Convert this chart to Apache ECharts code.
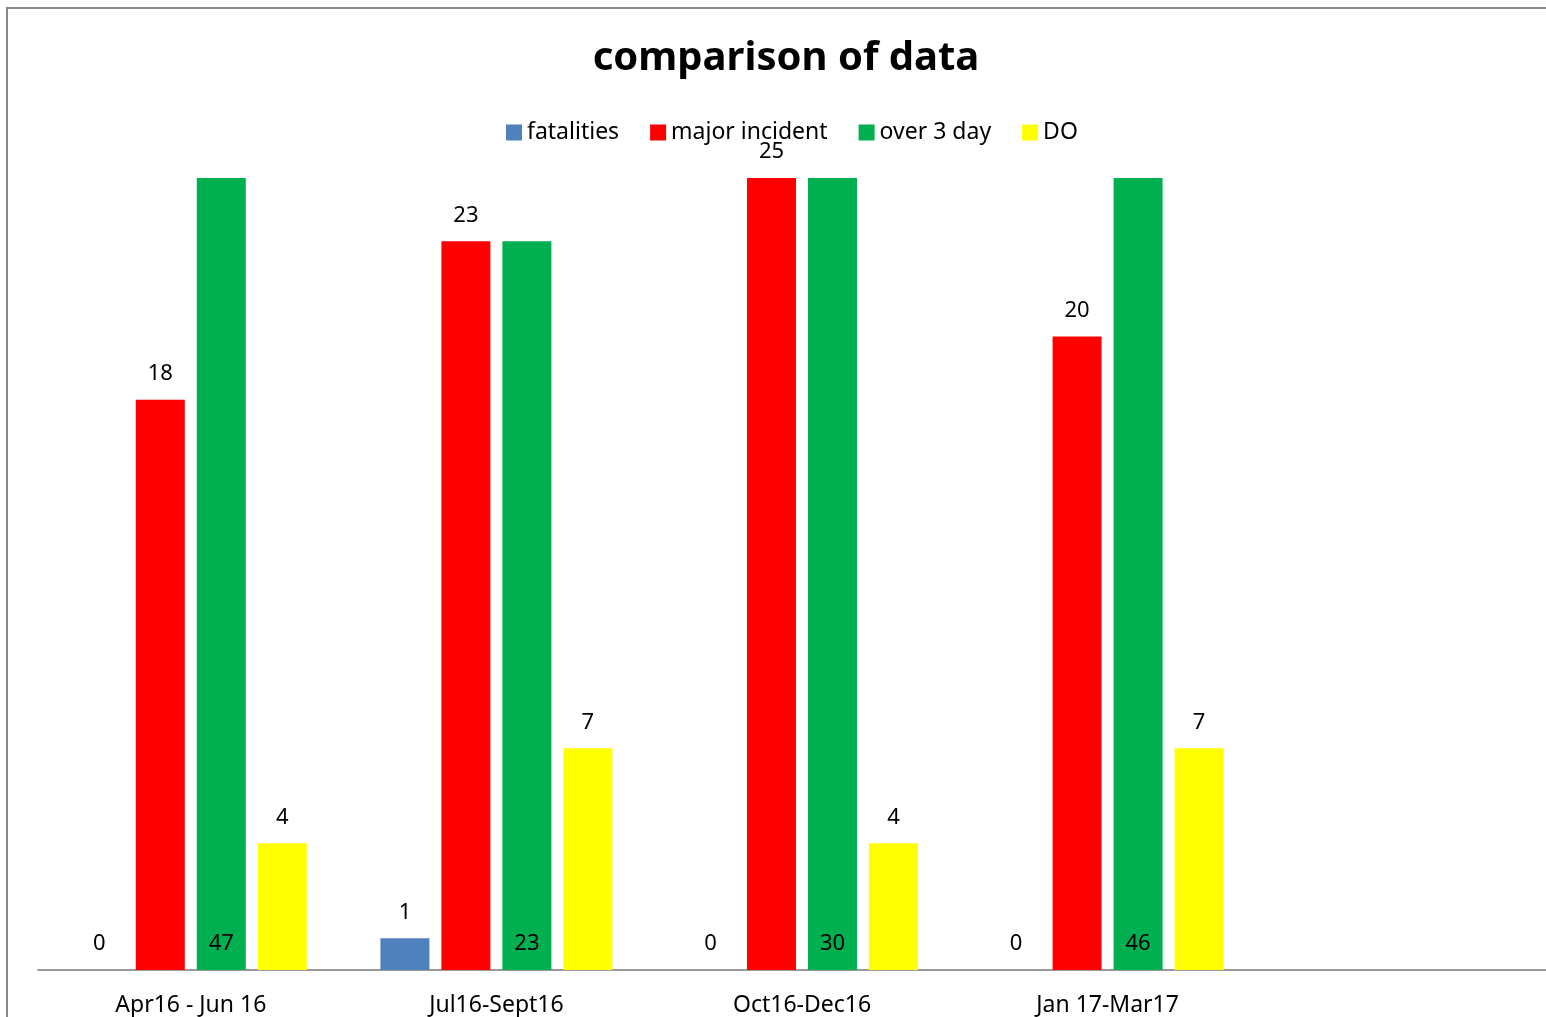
<!DOCTYPE html>
<html>
<head>
<meta charset="utf-8">
<script src="https://cdn.jsdelivr.net/npm/echarts@6/dist/echarts.min.js"></script>
<style>
html,body{margin:0;padding:0;background:#fff;overflow:hidden;width:1546px;height:1017px;}
#frame{position:absolute;left:6px;top:7px;width:1600px;height:1100px;border-left:2px solid #888;border-top:2px solid #888;}
#chart{position:absolute;left:0;top:0;width:1572px;height:1017px;}
</style>
</head>
<body>
<div id="frame"></div>
<div id="chart"></div>
<script>
const categories = ['Apr16 - Jun 16', 'Jul16-Sept16', 'Oct16-Dec16', 'Jan 17-Mar17', ''];
const fatalities = [0, 1, 0, 0, null];
const majorIncident = [18, 23, 25, 20, null];
const over3Day = [47, 23, 30, 46, null];
const DO = [4, 7, 4, 7, null];

const FONT = '"Noto Sans", "Open Sans", sans-serif';
const chart = echarts.init(document.getElementById('chart'));
const topLabel = {show: true, position: 'top', distance: 15, color: '#000', fontSize: 22, fontFamily: FONT};
chart.setOption({
  animation: false,
  backgroundColor: 'transparent',
  title: {
    text: 'comparison of data', left: 'center', top: 34,
    textStyle: {fontSize: 40, fontWeight: 'bold', color: '#000', fontFamily: FONT}
  },
  legend: {
    top: 116, left: 501, itemWidth: 16, itemHeight: 16, itemGap: 31,
    icon: 'rect',
    textStyle: {fontSize: 23, color: '#000', fontFamily: FONT}
  },
  grid: {left: 38, right: 6, top: 178, bottom: 47, containLabel: false},
  xAxis: {
    type: 'category', data: categories,
    axisLine: {lineStyle: {color: '#9a9a9a', width: 2}},
    axisTick: {show: false},
    axisLabel: {color: '#000', fontSize: 23, fontFamily: FONT, margin: 24}
  },
  yAxis: {type: 'value', min: 0, max: 25, show: false, splitLine: {show: false}},
  series: [
    {name: 'fatalities', type: 'bar', data: fatalities, itemStyle: {color: '#4F81BD'}, label: topLabel, barGap: '24.5%', barCategoryGap: '24.1%'},
    {name: 'major incident', type: 'bar', data: majorIncident, itemStyle: {color: '#FF0000'}, label: topLabel},
    {name: 'over 3 day', type: 'bar', data: over3Day, itemStyle: {color: '#00B050'},
      label: {show: true, position: 'insideBottom', distance: 15, color: '#000', fontSize: 22, fontFamily: FONT}},
    {name: 'DO', type: 'bar', data: DO, itemStyle: {color: '#FFFF00'}, label: topLabel}
  ]
});
</script>
</body>
</html>
